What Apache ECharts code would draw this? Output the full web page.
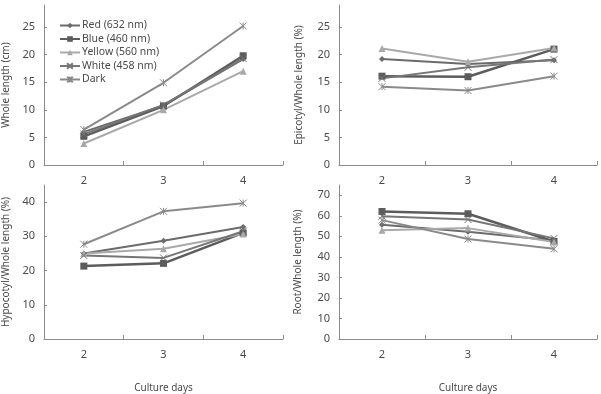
<!DOCTYPE html>
<html>
<head>
<meta charset="utf-8">
<script src="https://cdn.jsdelivr.net/npm/echarts@6/dist/echarts.min.js"></script>
<style>
html,body{margin:0;padding:0;background:#fff;}
#main{width:601px;height:394px;}
</style>
</head>
<body>
<div id="main"></div>
<script>
// 培养天数
var days = ['2', '3', '4'];
var names = ['Red (632 nm)', 'Blue (460 nm)', 'Yellow (560 nm)', 'White (458 nm)', 'Dark'];

// 全长 (cm)
var wholeRed = [6.0, 10.8, 19.2];
var wholeBlue = [5.2, 10.7, 19.8];
var wholeYellow = [3.9, 10.0, 17.0];
var wholeWhite = [5.6, 10.9, 19.3];
var wholeDark = [6.4, 14.9, 25.2];

// 上胚轴/全长 (%)
var epiRed = [19.2, 18.3, 19.0];
var epiBlue = [16.1, 16.0, 21.0];
var epiYellow = [21.1, 18.7, 21.2];
var epiWhite = [15.7, 17.7, 19.1];
var epiDark = [14.2, 13.5, 16.1];

// 下胚轴/全长 (%)
var hypoRed = [25.0, 28.7, 32.7];
var hypoBlue = [21.3, 22.1, 31.0];
var hypoYellow = [25.0, 26.4, 30.7];
var hypoWhite = [24.4, 23.7, 31.5];
var hypoDark = [27.7, 37.3, 39.7];

// 根/全长 (%)
var rootRed = [55.7, 52.2, 48.0];
var rootBlue = [62.1, 61.0, 47.5];
var rootYellow = [53.0, 54.0, 47.2];
var rootWhite = [59.8, 58.2, 49.0];
var rootDark = [57.9, 48.7, 43.9];

var colors = ['#6b6b6b', '#5c5c5c', '#a9a9a9', '#767676', '#8a8a8a'];
var symbols = [
	'diamond',
	'rect',
	'triangle',
	'path://M0,0L10,10M10,0L0,10',
	'path://M0,0L10,10M10,0L0,10M5,0L5,10'
];
var symbolSizes = [6, 7, 7, 7, 7];
var widths = [2, 2.5, 2, 2, 2];

var panels = [
	{data: [wholeRed, wholeBlue, wholeYellow, wholeWhite, wholeDark], name: 'Whole length (cm)', max: 29, interval: 5, gap: 33},
	{data: [epiRed, epiBlue, epiYellow, epiWhite, epiDark], name: 'Epicotyl/Whole length (%)', max: 29, interval: 5, gap: 35},
	{data: [hypoRed, hypoBlue, hypoYellow, hypoWhite, hypoDark], name: 'Hypocotyl/Whole length (%)', max: 45, interval: 10, gap: 33},
	{data: [rootRed, rootBlue, rootYellow, rootWhite, rootDark], name: 'Root/Whole length (%)', max: 75, interval: 10, gap: 36}
];

var grids = [
	{left: 33, top: 5, width: 250, height: 160},
	{left: 339, top: 5, width: 258, height: 160},
	{left: 33, top: 185, width: 250, height: 159},
	{left: 339, top: 185, width: 258, height: 160}
];

var axisColor = '#8c8c8c';
var textColor = '#4a4a4a';
var fontFamily = '"Noto Sans", "Noto Sans CJK KR", sans-serif';

var xAxes = [], yAxes = [], series = [];
for (var i = 0; i < 4; i++) {
	xAxes.push({
		type: 'category',
		gridIndex: i,
		data: days,
		boundaryGap: true,
		axisLine: {lineStyle: {color: axisColor, width: 1}},
		axisTick: {show: true, inside: true, length: 4, lineStyle: {color: axisColor}},
		axisLabel: {color: textColor, fontSize: 11, margin: 10, fontFamily: fontFamily},
		name: i >= 2 ? 'Culture days' : '',
		nameLocation: 'middle',
		nameGap: 44,
		nameTextStyle: {color: textColor, fontSize: 10, fontFamily: fontFamily}
	});
	yAxes.push({
		type: 'value',
		gridIndex: i,
		min: 0,
		max: panels[i].max,
		interval: panels[i].interval,
		splitLine: {show: false},
		axisLine: {show: true, lineStyle: {color: axisColor, width: 1}},
		axisTick: {show: true, inside: true, length: 3, lineStyle: {color: axisColor}},
		axisLabel: {color: textColor, fontSize: 11, margin: 9, showMaxLabel: false, fontFamily: fontFamily},
		name: panels[i].name,
		nameLocation: 'middle',
		nameGap: panels[i].gap,
		nameRotate: 90,
		nameTextStyle: {color: textColor, fontSize: 10, fontFamily: fontFamily}
	});
	for (var j = 0; j < 5; j++) {
		series.push({
			type: 'line',
			name: names[j],
			xAxisIndex: i,
			yAxisIndex: i,
			data: panels[i].data[j],
			symbol: symbols[j],
			symbolSize: symbolSizes[j],
			showAllSymbol: true,
			lineStyle: {color: colors[j], width: widths[j]},
			itemStyle: {color: colors[j], borderColor: colors[j], borderWidth: j >= 3 ? 1 : 0},
			animation: false
		});
	}
}

var chart = echarts.init(document.getElementById('main'));
chart.setOption({
	backgroundColor: '#ffffff',
	animation: false,
	legend: {
		orient: 'vertical',
		left: 59,
		top: 20,
		padding: 0,
		itemWidth: 20,
		itemHeight: 7,
		itemGap: 2.5,
		data: names,
		textStyle: {color: textColor, fontSize: 10.5, lineHeight: 11, fontFamily: fontFamily, padding: [0, 0, 0, -3]}
	},
	grid: grids,
	xAxis: xAxes,
	yAxis: yAxes,
	series: series
});
</script>
</body>
</html>
